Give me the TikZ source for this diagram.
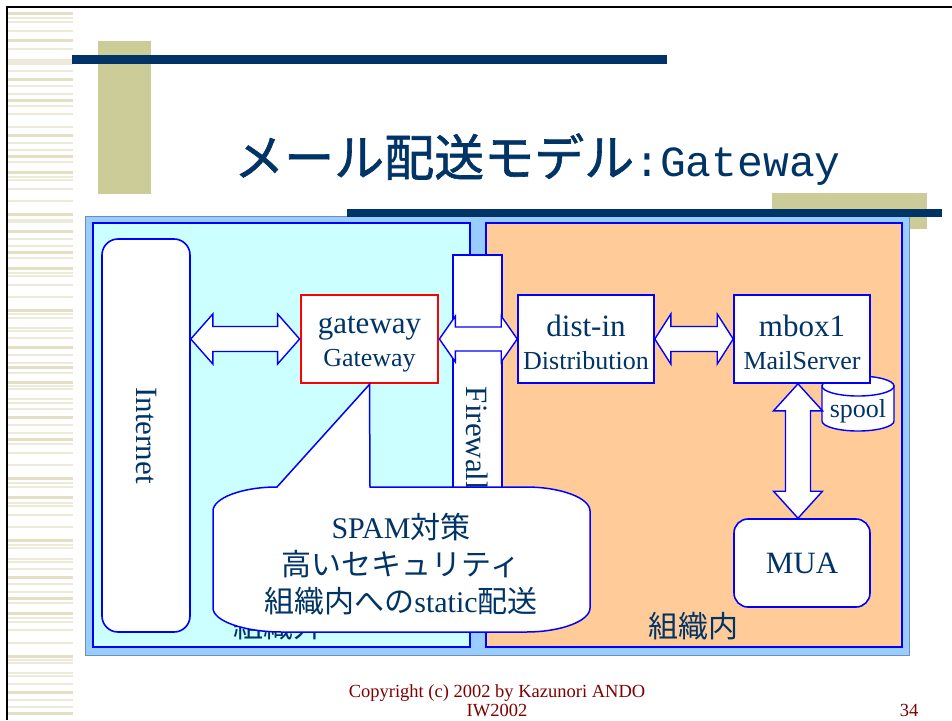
\documentclass[tikz,border=0pt]{standalone}
\usepackage{fontspec}
\setmainfont{Liberation Serif}
\setmonofont{Liberation Mono}
\newfontfamily\cjk{Noto Sans CJK JP}
\newfontfamily\cjktitle[FakeBold=1.2]{Noto Sans CJK JP}
\usetikzlibrary{calc}
\definecolor{navy}{HTML}{003366}
\definecolor{khaki}{HTML}{CCCC99}
\definecolor{stripethick}{HTML}{E3E0C6}
\definecolor{stripethin}{HTML}{ECEAD8}
\definecolor{outerblue}{HTML}{99CCFF}
\definecolor{outerline}{HTML}{6F8FB5}
\definecolor{cyanfill}{HTML}{CCFFFF}
\definecolor{orangefill}{HTML}{FFCC99}
\definecolor{footred}{HTML}{800000}
\definecolor{pblue}{HTML}{0000FF}
\newcommand\fsz[2]{\fontsize{#1}{#2}\selectfont}
\newcommand\hblock[5]{%
  \draw[barrow] let \p1=(#1), \p2=(#2) in
   (\x1,\y1) -- (\x1+#3,\y1+#5) -- (\x1+#3,\y1+#4) -- (\x2-#3,\y1+#4) -- (\x2-#3,\y1+#5)
   -- (\x2,\y1) -- (\x2-#3,\y1-#5) -- (\x2-#3,\y1-#4) -- (\x1+#3,\y1-#4) -- (\x1+#3,\y1-#5) -- cycle;}
\newcommand\vblock[5]{%
  \draw[barrow] let \p1=(#1), \p2=(#2) in
   (\x1,\y1) -- (\x1+#5,\y1-#3) -- (\x1+#4,\y1-#3) -- (\x1+#4,\y2+#3) -- (\x1+#5,\y2+#3)
   -- (\x1,\y2) -- (\x1-#5,\y2+#3) -- (\x1-#4,\y2+#3) -- (\x1-#4,\y1-#3) -- (\x1-#5,\y1-#3) -- cycle;}
\newcommand\topstrut{\rule{0pt}{28pt}}
\begin{document}
\begin{tikzpicture}[x=1pt,y=-1pt,
  box/.style={draw=pblue, line width=1.6pt, fill=white, inner sep=0pt, text=navy, align=center},
  twoline/.style={font=\fsz{26}{33}},
  barrow/.style={draw=pblue, line width=1.4pt, fill=white, line join=miter},
  region/.style={draw=pblue, line width=1.6pt},
  lbl/.style={text=navy, inner sep=0pt}]
\useasboundingbox (0,0) rectangle (952,720);
\fill[white] (0,0) rectangle (952,720);
% left stripes
\foreach \yy/\ww in {13.5/3,40.5/3,79/3,100/3,135.5/3,156/3,172/3,214/3,231/3,252/3,268/3,310/3,347/3,367/3,382/3,417/3,439/3,478/3,497/3,540/3,577/3,598/3,613/3,656/3,692/3,713/3}
  \fill[stripethick] (8,\yy-\ww/2) rectangle (73,\yy+\ww/2);
\foreach \yy in {18,22,31,49,60,62,64,71,86,94,106,114,127,143,150,162,177,180,189,201,220,222,239,246,258,273,276,285,297,314,318,328,331,338,355,363,373,386,389,399,403,409,425,433,444,453,465,483,487,503,506,515,527,545,548,559,562,569,584,592,603,618,622,630,643,660,663,673,676,684,700,707}
  \fill[stripethin] (8,\yy-0.65) rectangle (73,\yy+0.65);
% frame
\draw[black, line width=2pt] (7,720) -- (7,7) -- (952,7);
% decorations
\fill[khaki] (98,41) rectangle (151,194);
\fill[navy] (72,55) rectangle (667,64);
\node[anchor=base west, text=navy, inner sep=0pt] (title) at (234,176)
  {{\cjktitle\fsz{50}{54}メール配送モデル}{\ttfamily\fsz{43}{46}:Gateway}};
\fill[khaki] (772,193) rectangle (927,229);
\filldraw[fill=outerblue, draw=outerline, line width=0.8pt] (85,216) rectangle (909,655);
\fill[navy] (347,209) rectangle (942,217);
% regions
\filldraw[region, fill=cyanfill] (93,223) rectangle (470,647);
\filldraw[region, fill=orangefill] (486,223) rectangle (902,647);
\node[lbl, anchor=base, font={\cjk\fsz{30}{32}}] (outside) at (278,637) {組織外};
\node[lbl, anchor=base, font={\cjk\fsz{30}{32}}] (inside) at (693,637) {組織内};
% nodes
\node[box, rounded corners=16pt, minimum width=88pt, minimum height=393pt] (inet) at (146,435.5) {};
\node[lbl, rotate=-90, font=\fsz{31}{33}] (inetlbl) at (inet.center) {Internet};
\node[box, minimum width=49pt, minimum height=365pt] (fw) at (477.5,437.5) {};
\node[lbl, rotate=-90, font=\fsz{31}{33}] (fwlbl) at (477,438.5) {Firewall};
\path[draw=pblue, line width=1.4pt, fill=white] (822,386) -- (822,421)
  arc[start angle=180, end angle=360, x radius=36pt, y radius=10pt] -- (894,386) -- cycle;
\draw[draw=pblue, line width=1.4pt, fill=white] (858,386) ellipse [x radius=36pt, y radius=10pt];
\node[lbl, anchor=base, font=\fsz{26}{28}] (spool) at (858,417) {spool};
\node[box, twoline, draw=red, line width=2.8pt, minimum width=137pt, minimum height=88pt] (gw) at (369.5,339)
  {\topstrut\fsz{31}{33}gateway\\Gateway};
\node[box, twoline, minimum width=136pt, minimum height=88pt] (dist) at (586,339)
  {\topstrut\fsz{31}{33}dist-in\\Distribution};
\node[box, twoline, minimum width=136pt, minimum height=88pt] (mbox) at (802,339)
  {\topstrut\fsz{31}{33}mbox1\\MailServer};
\node[box, rounded corners=14pt, minimum width=136pt, minimum height=88pt, font=\fsz{31}{33}] (mua) at (802,563)
  {MUA};
% block arrows
\hblock{inet.east |- gw.west}{gw.west}{22pt}{12.5pt}{25pt}
\hblock{gw.east}{dist.west}{16pt}{12pt}{23pt}
\hblock{dist.east}{mbox.west}{16pt}{12.5pt}{25pt}
\vblock{[xshift=-4pt]mbox.south}{[xshift=-4pt]mua.north}{27pt}{12.5pt}{24.5pt}
% callout
\draw[draw=pblue, line width=1.5pt, fill=white] (277,487) -- (gw.south) -- (370,487) -- (526,487)
  .. controls (561,487) and (590,498) .. (590,511) -- (590,608)
  .. controls (590,621) and (561,632) .. (526,632) -- (282,632)
  .. controls (244,632) and (213,621) .. (213,608) -- (213,511)
  .. controls (213,498) and (242,487) .. (277,487) -- cycle;
\node[lbl, align=center, font=\fsz{30}{37}] (calltext) at (401,564)
  {SPAM{\cjk 対策}\\{\cjk 高いセキュリティ}\\{\cjk 組織内への}static{\cjk 配送}};
% footer
\node[anchor=base, text=footred, inner sep=0pt, font=\fsz{18.5}{21}] (copy) at (497,697) {Copyright (c) 2002 by Kazunori ANDO};
\node[anchor=base, text=footred, inner sep=0pt, font=\fsz{18.5}{21}] (iw) at (497,716) {IW2002};
\node[anchor=base, text=footred, inner sep=0pt, font=\fsz{18.5}{21}] (page) at (909,716) {34};
\end{tikzpicture}
\end{document}
